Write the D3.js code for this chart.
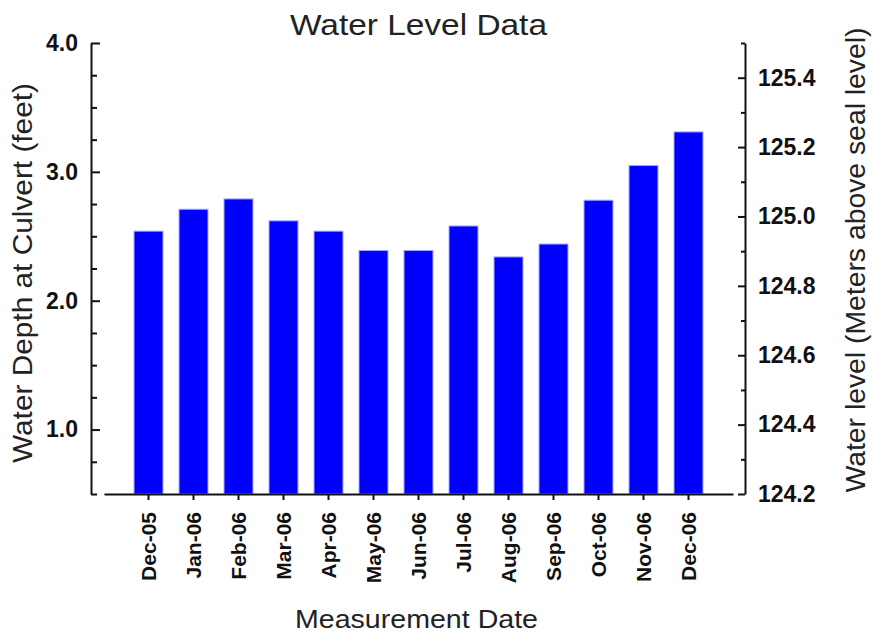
<!DOCTYPE html>
<html>
<head>
<meta charset="utf-8">
<script src="https://cdn.jsdelivr.net/npm/d3@7"></script>
<style>
  body { margin: 0; background: #fff; }
  text { font-family: "Liberation Sans", Arial, sans-serif; }
</style>
</head>
<body>
<script>
// data
const months = ["Dec-05", "Jan-06", "Feb-06", "Mar-06", "Apr-06", "May-06", "Jun-06",
                "Jul-06", "Aug-06", "Sep-06", "Oct-06", "Nov-06", "Dec-06"];
const depthFeet = [2.54, 2.71, 2.79, 2.62, 2.54, 2.39, 2.39, 2.58, 2.34, 2.44, 2.78, 3.05, 3.31];

const leftTicks = [1.0, 2.0, 3.0, 4.0];
const leftMinor = [0.5, 0.75, 1.25, 1.5, 1.75, 2.25, 2.5, 2.75, 3.25, 3.5, 3.75];
const rightTicks = [124.2, 124.4, 124.6, 124.8, 125.0, 125.2, 125.4];
const rightMinor = [124.3, 124.5, 124.7, 124.9, 125.1, 125.3, 125.5];

const W = 873, H = 633;
const plotTop = 43, plotBottom = 494;
const leftX = 91, rightX = 745;

const svg = d3.select("body").append("svg")
    .attr("width", W)
    .attr("height", H);

const y = d3.scaleLinear().domain([0.5, 4.0]).range([plotBottom, plotTop]);
const y2 = d3.scaleLinear().domain([124.2, 125.5]).range([plotBottom, plotTop]);

const x = d3.scaleBand()
    .domain(months)
    .range([104, 733])
    .paddingInner(0.356)
    .paddingOuter(0.667);

// bars
svg.append("g")
  .selectAll("rect")
  .data(depthFeet)
  .join("rect")
    .attr("x", (d, i) => x(months[i]))
    .attr("y", d => y(d))
    .attr("width", x.bandwidth())
    .attr("height", d => y(0.5) - y(d))
    .attr("fill", "#0000ff")
    .attr("stroke", "#a8a8ff")
    .attr("stroke-width", 1);

// left axis (ticks pointing inward)
const gl = svg.append("g")
    .attr("transform", `translate(${leftX},0)`)
    .call(d3.axisLeft(y).tickValues(leftTicks).tickFormat(d3.format(".1f"))
        .tickSizeInner(-9).tickSizeOuter(0).tickPadding(13));
svg.append("g")
    .attr("transform", `translate(${leftX},0)`)
    .call(d3.axisLeft(y).tickValues(leftMinor).tickFormat("")
        .tickSizeInner(-6).tickSizeOuter(0))
    .select(".domain").remove();

// right axis
const gr = svg.append("g")
    .attr("transform", `translate(${rightX},0)`)
    .call(d3.axisRight(y2).tickValues(rightTicks).tickFormat(d3.format(".1f"))
        .tickSizeInner(-7).tickSizeOuter(0).tickPadding(13));
svg.append("g")
    .attr("transform", `translate(${rightX},0)`)
    .call(d3.axisRight(y2).tickValues(rightMinor).tickFormat("")
        .tickSizeInner(-4).tickSizeOuter(0))
    .select(".domain").remove();

// bottom axis
const gb = svg.append("g")
    .attr("transform", `translate(0,${plotBottom})`)
    .call(d3.axisBottom(x).tickSizeInner(6).tickSizeOuter(0).tickPadding(0));

gb.selectAll(".tick text")
    .attr("transform", "rotate(-90)")
    .attr("x", -18)
    .attr("y", 0)
    .attr("dy", "0.36em")
    .attr("text-anchor", "end")
    .style("font-size", "21px")
    .style("font-weight", "bold");

[gl, gr].forEach(g => g.selectAll(".tick text")
    .style("font-size", "23px")
    .style("font-weight", "bold"));

svg.selectAll(".domain, .tick line")
    .attr("stroke", "#111")
    .attr("stroke-width", 2);
svg.selectAll(".tick text").attr("fill", "#111");

// titles
svg.append("text")
    .attr("x", 418.5)
    .attr("y", 35)
    .attr("text-anchor", "middle")
    .attr("textLength", 257)
    .attr("lengthAdjust", "spacingAndGlyphs")
    .style("font-size", "30px")
    .attr("fill", "#222")
    .text("Water Level Data");

svg.append("text")
    .attr("x", 416.5)
    .attr("y", 628)
    .attr("text-anchor", "middle")
    .attr("textLength", 243)
    .attr("lengthAdjust", "spacingAndGlyphs")
    .style("font-size", "25px")
    .attr("fill", "#222")
    .text("Measurement Date");

svg.append("text")
    .attr("transform", "translate(32,273) rotate(-90)")
    .attr("text-anchor", "middle")
    .attr("textLength", 380)
    .attr("lengthAdjust", "spacingAndGlyphs")
    .style("font-size", "28px")
    .attr("fill", "#222")
    .text("Water Depth at Culvert (feet)");

svg.append("text")
    .attr("transform", "translate(865,260) rotate(-90)")
    .attr("text-anchor", "middle")
    .attr("textLength", 465)
    .attr("lengthAdjust", "spacingAndGlyphs")
    .style("font-size", "27px")
    .attr("fill", "#222")
    .text("Water level (Meters above seal level)");
</script>
</body>
</html>
